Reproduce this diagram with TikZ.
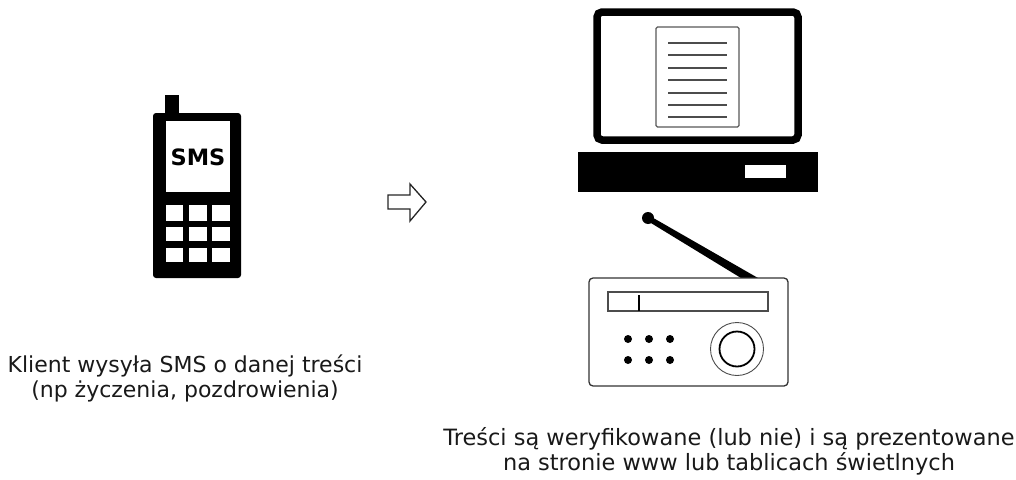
\documentclass[tikz,border=0pt]{standalone}
\usepackage{fontspec}
\setmainfont{DejaVu Sans}
\begin{document}
\begin{tikzpicture}[x=1pt,y=-1pt,
  caption/.style={align=center,inner sep=0pt,font=\fontsize{22}{25}\selectfont,text=black!90},
  hole/.style={fill=white,draw=none},
  thin outline/.style={draw=black!80,line width=1.3pt,fill=white}]
\useasboundingbox (0,0) rectangle (1016,479);
% phone
\fill[black] (165,95) rectangle (179,118);
\fill[black,rounded corners=3pt] (153,113) rectangle (241,278);
\fill[hole] (166,121) rectangle (230,192);
\node (sms) at (198,157) [inner sep=0pt,font=\fontsize{22.5}{24}\selectfont\bfseries] {SMS};
\foreach \xa/\xb in {166/183,189/207,212/230}
  \foreach \ya/\yb in {205/221,227/241,248/262}
    \fill[hole] (\xa,\ya) rectangle (\xb,\yb);
% arrow
\draw[black!85,line width=1.3pt,fill=white,line join=miter] (388,195) -- (410,195) -- (410,184) -- (426,202) -- (410,221) -- (410,209) -- (388,209) -- cycle;
% monitor
\draw[black,line width=7.5pt,rounded corners=5pt,fill=white] (597,12) rectangle (798,140);
\draw[black!65,line width=1.1pt,rounded corners=1.5pt] (656,27) rectangle (739,127);
\foreach \y in {43,55,68,80,93,105,117}
  \draw[black!70,line width=1.1pt] (668,\y) -- (727,\y);
\fill[black] (578,152) rectangle (818,192);
\fill[hole] (745,165) rectangle (786,178);
% radio
\fill[black] (649,215.5) -- (646,220) -- (741,278) -- (758,278) -- cycle;
\fill[black] (648,218) circle (6);
\draw[thin outline,rounded corners=4pt] (589,278) rectangle (788,386);
\draw[black!70,line width=1.1pt] (608,292) rectangle (768,311);
\draw[black,line width=1.3pt] (639,295) -- (639,311);
\foreach \x in {628,649,670}
  \foreach \y in {339,360}
    \fill[black] (\x,\y) circle (4);
\draw[black!70,line width=.9pt] (737,349) circle (26.5);
\draw[black,line width=1.8pt] (737,349) circle (17.5);
% captions
\node[caption] (lefttext) at (185,378.5) {Klient wysyła SMS o danej treści\\(np życzenia, pozdrowienia)};
\node[caption,font=\fontsize{22.45}{25}\selectfont] (righttext) at (729,451.5) {Treści są weryfikowane (lub nie) i są prezentowane\\na stronie www lub tablicach świetlnych};
\end{tikzpicture}
\end{document}
